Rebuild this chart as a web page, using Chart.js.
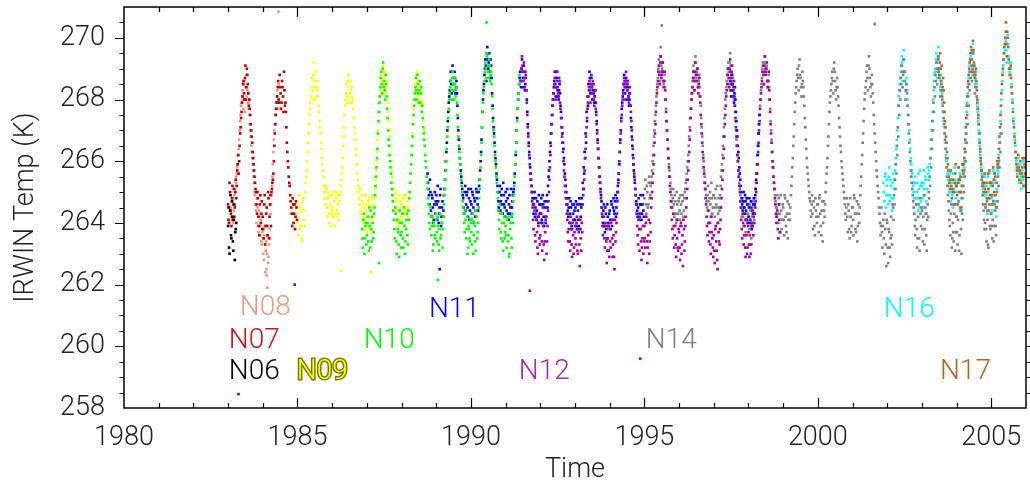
<!DOCTYPE html>
<html>
<head>
<meta charset="utf-8">
<script src="https://cdn.jsdelivr.net/npm/chart.js@4.4.1/dist/chart.umd.min.js"></script>
<style>
  html, body { margin: 0; padding: 0; background: #fff; }
  #wrap { width: 1030px; height: 486px; }
</style>
</head>
<body>
<div id="wrap"><canvas id="irwin" width="1030" height="486"></canvas></div>
<script>
// the *Mid arrays are a second reading half a step later
const STEP = 1 / 36;

const n06Start = 1983.0;
const n06 = [263.9,263.2,264.4,263.6,264.7,263.4,264.1,262.8,263.8];
const n06Mid = [264.5,263.0,264.9,263.5,264.2,263.1,264.6,263.7,264.0];

const n07Start = 1983.0;
const n07 = [
  264.6,264.0,265.0,264.3,264.8,264.1, 265.1,264.5,265.4,265.2,265.9,265.6, 266.5,267.1,267.6,268.1,268.6,268.0,
  269.1,268.4,268.8,268.2,268.0,267.5, 267.0,266.6,266.1,265.7,265.3,265.0, 264.3,264.8,263.9,264.6,264.0,264.7,
  264.2,263.5,264.9,263.9,264.5,263.6, 264.8,264.2,264.9,265.0,265.3,265.6, 266.5,267.2,267.7,268.1,268.6,267.9,
  268.4,267.7,268.6,268.1,268.9,267.8, 267.6,266.6,266.0,265.5,265.2,264.7, 264.3,264.8,264.0,264.6,264.2,264.5
];
const n07Mid = [
  264.1,265.3,264.4,263.9,265.2,264.6, 264.2,265.0,264.8,265.7,266.2,266.0, 266.9,267.4,267.9,268.5,268.2,268.7,
  268.0,269.0,268.5,267.8,267.7,267.2, 266.8,266.3,265.9,265.5,265.1,264.6, 265.0,264.2,263.6,264.9,264.3,263.8,
  263.8,264.6,263.3,264.3,263.9,265.0, 263.5,264.6,263.9,265.1,265.4,266.0, 266.9,267.5,267.9,268.4,268.0,268.8,
  268.2,267.9,268.4,267.6,268.3,267.9, 267.1,266.3,265.8,265.3,264.9,264.5, 263.9,264.6,264.3,263.8,264.7,264.1
];
const n07Extra = [[1983.30, 258.45], [1984.92, 262.0]];

const n08Start = 1983 + 3 / 36;
const n08 = [
  264.5,264.1,264.8,264.4,265.0,265.3, 265.6,265.9,266.4,267.0,267.5,267.9, 268.3,267.7,268.6,268.0,268.8,268.3,
  267.9,267.5,267.0,266.5,266.1,265.7, 265.3,264.9,264.4,264.8,263.9,264.4, 263.6,264.1,263.3,
  263.5,262.8,263.9,263.1,262.5,263.6, 262.9,263.8,264.3,264.9,265.5,266.3, 267.0,267.5,267.9,268.3,267.7
];
const n08Mid = [
  264.2,264.7,264.0,264.9,265.1,265.5, 265.8,266.2,266.7,267.3,267.8,268.1, 268.0,268.5,267.6,268.4,268.1,267.9,
  267.7,267.2,266.8,266.3,265.9,265.5, 265.0,264.6,264.0,264.5,263.7,264.2, 263.9,263.4,263.7,
  263.0,263.6,262.4,263.4,263.0,262.7, 263.3,263.5,264.6,265.2,265.9,266.7, 267.2,267.7,268.1,267.9,268.5
];
const n08Extra = [[1984.45, 270.85], [1984.13, 261.9], [1984.11, 262.3]];

const n09Start = 1984 + 35 / 36;
const n09 = [
  264.3,
  264.6,263.6,264.9,263.9,264.4,263.4, 264.8,264.1,265.0,265.5,266.0,266.6, 267.2,267.7,268.1,268.7,268.0,269.2,
  268.4,268.9,268.1,268.6,267.8,267.3, 266.9,266.4,265.9,265.5,265.0,264.6, 265.1,264.2,264.8,264.0,264.6,264.3,
  264.9,264.2,264.7,263.9,265.0,264.4, 264.6,264.1,264.9,265.2,265.6,266.1, 266.8,267.5,268.0,268.5,267.9,268.8,
  268.2,268.6,267.9,268.4,267.7,267.1, 266.7,266.2,265.6,265.2,264.8,265.1, 264.3,264.7,264.0,264.5,263.8,264.4,
  264.6,263.9,264.8,264.2,264.5,263.7, 264.9,264.3,264.8,265.4,266.0,266.7, 267.3,267.9,268.3,268.8,268.2,269.1,
  268.5,268.9,268.2,268.6,267.9,267.3, 266.8,266.2,265.7,265.3,264.9,264.5, 265.0,264.1,264.7,263.9,264.5,264.2,
  264.6,264.0,264.9,264.3,264.5,263.8, 264.7,264.2,265.0,265.6,266.2,266.9, 267.5,268.0,268.3,268.8,268.1,268.6,
  267.9,268.5,268.0,268.3,267.6,267.0
];
const n09Mid = [
  264.0,
  264.1,264.9,263.8,264.5,263.5,264.7, 264.4,263.9,265.3,265.7,266.3,266.9, 267.5,267.9,268.4,268.3,268.8,268.6,
  268.0,268.4,268.3,268.1,267.6,267.1, 266.6,266.1,265.7,265.2,264.8,265.2, 264.5,265.0,264.3,264.9,263.9,264.5,
  264.4,265.0,264.3,264.8,264.2,264.9, 264.3,264.7,265.0,265.4,265.8,266.5, 267.1,267.8,268.2,268.1,268.6,268.4,
  267.9,268.3,268.1,268.0,267.4,266.9, 266.4,265.9,265.4,265.0,264.6,264.4, 264.9,264.1,264.6,264.2,264.9,263.7,
  264.2,264.7,263.8,264.6,264.1,264.8, 264.0,264.6,265.1,265.7,266.3,267.0, 267.6,268.1,268.6,268.5,268.9,268.7,
  268.3,268.8,268.4,268.1,267.6,267.0, 266.5,266.0,265.5,265.1,264.7,264.3, 264.8,264.4,264.0,264.9,264.1,264.7,
  264.2,264.8,264.4,263.9,264.9,264.1, 264.5,264.8,265.3,265.9,266.5,267.2, 267.7,268.2,268.5,268.4,268.9,268.2,
  268.3,267.8,268.2,267.9,267.3,266.7
];
const n09Extra = [[1986.25, 262.45], [1987.13, 262.4]];

const n10Start = 1986 + 31 / 36;
const n10 = [
  263.8,263.2,264.3,263.5,264.0,
  263.6,264.2,263.1,263.9,264.4,263.4, 264.0,263.7,264.5,265.2,265.8,266.4, 267.3,267.9,268.4,268.9,268.2,269.2,
  268.6,268.0,268.5,267.7,267.0,266.5, 266.0,265.6,265.1,264.7,264.1,263.5, 264.3,263.0,263.8,263.3,264.4,263.6,
  263.7,264.3,263.2,263.9,263.4,264.1, 263.6,264.4,264.8,265.3,265.9,266.5, 267.2,267.8,268.2,268.7,268.0,268.5,
  267.9,268.6,268.2,267.6,267.4,266.9, 266.5,266.0,265.5,265.1,264.6,264.0, 264.5,263.6,264.2,263.3,263.9,263.5,
  264.1,263.4,263.9,263.1,264.3,263.6, 264.0,263.8,264.6,265.1,265.7,266.4, 267.1,267.7,268.2,268.6,268.0,268.9,
  268.3,268.7,268.1,268.4,267.5,266.8, 266.3,265.9,265.4,265.0,264.5,264.0, 264.4,263.5,264.2,263.2,263.8,263.4,
  264.0,263.3,264.3,263.6,263.9,263.1, 264.2,263.7,264.5,265.1,265.8,266.6, 267.6,268.2,268.6,269.2,268.7,269.5,
  268.9,269.3,268.6,268.9,268.1,267.3, 266.8,266.2,265.8,265.3,264.8,264.1, 264.6,263.7,264.3,263.4,264.0,263.5,
  263.9,263.2,264.2,263.6,263.0,264.0, 263.5,264.3,264.7,265.2,265.9,266.6, 267.3,268.0,268.5
];
const n10Mid = [
  263.5,264.1,263.0,263.9,263.3,
  264.0,263.4,264.5,263.2,263.8,264.2, 263.5,264.3,264.9,265.5,266.1,266.9, 267.6,268.1,268.7,268.5,269.0,268.4,
  268.3,268.8,268.1,267.4,266.7,266.2, 265.8,265.3,264.9,264.4,263.8,264.5, 263.4,264.1,263.7,262.9,264.0,263.2,
  264.0,263.5,264.5,263.0,263.8,264.3, 263.3,264.1,265.0,265.6,266.2,266.8, 267.5,268.0,268.4,268.3,268.8,268.2,
  268.3,267.9,268.4,267.8,267.1,266.7, 266.2,265.8,265.3,264.8,264.3,263.8, 264.2,263.9,263.1,264.0,263.6,264.3,
  263.7,264.2,263.3,263.8,263.5,264.0, 263.2,264.2,264.9,265.4,266.0,266.8, 267.4,268.0,268.4,268.3,268.7,268.5,
  268.0,268.5,268.3,267.9,267.1,266.5, 266.1,265.6,265.2,264.7,264.3,263.7, 264.1,263.8,263.0,263.9,263.5,264.1,
  263.7,264.1,263.0,264.0,263.4,264.4, 263.5,264.0,264.8,265.4,266.2,267.1, 267.9,268.4,268.9,269.0,269.4,269.1,
  268.7,269.1,268.8,268.5,267.7,267.0, 266.5,266.0,265.5,265.0,264.4,263.8, 264.3,263.5,264.0,263.1,264.2,263.7,
  263.6,264.1,263.4,262.9,263.8,264.2, 263.2,264.0,264.9,265.5,266.3,267.0, 267.7,268.2,268.8
];
const n10Extra = [[1990.45, 270.5], [1989.05, 262.15], [1987.35, 262.7]];

const n11Start = 1988 + 27 / 36;
const n11 = [
  265.6,265.1,264.6,265.0,264.2,264.8,264.0,264.6,264.3,
  264.9,264.1,264.7,264.3,264.9,263.9, 264.5,264.2,264.9,265.4,266.0,266.6, 267.3,267.9,268.3,268.9,268.2,269.1,
  268.5,268.9,268.2,268.6,267.8,267.0, 266.4,265.9,265.5,265.1,264.8,264.3, 265.2,264.6,265.0,264.2,264.8,264.4,
  265.1,264.3,264.9,264.0,264.7,264.4, 265.0,264.6,265.0,265.4,266.0,266.7, 267.6,268.3,268.8,269.3,268.6,269.7,
  269.0,269.5,268.7,269.1,268.2,267.4, 266.9,266.3,265.9,265.4,265.0,264.5, 265.2,264.7,265.1,264.3,264.9,264.5,
  265.0,264.4,264.8,264.1,264.9,264.5, 264.2,264.7,265.0,265.3,265.9,266.6, 267.4,268.0,268.5,268.9,268.4,269.3,
  268.7,269.1,268.3,268.7,268.0,267.2, 266.6,266.1,265.6,265.2,264.8,264.3, 265.0,264.5,264.1,264.7,264.0,264.6,
  264.3,264.8,264.0,264.6,263.9,264.5, 264.2,264.9,265.2,265.7,266.3,266.9, 267.5,268.0,268.4,268.9,268.1,268.7,
  268.3,268.0,268.5,267.8,267.4,266.9, 266.4,265.9,265.4,265.0,264.6,264.2, 264.8,264.0,264.5,263.8,264.3,264.6,
  264.1,264.7,263.8,264.4,263.9,264.6, 264.2,264.8,265.3,265.8,266.3,266.9, 267.6,268.1,268.5,268.9,268.2,268.7,
  268.0,268.5,267.9,268.3,267.6,267.0, 266.4,265.8,265.3,264.9,264.5,264.0, 264.6,263.7,264.3,263.5,264.2,263.9,
  264.4,263.8,264.6,264.1,264.8,264.3, 264.9,264.5,265.0,265.4,265.9,266.7, 267.4,267.9,268.3,268.8,268.2,268.7,
  268.0,268.4,267.8,268.2,267.4,266.8, 266.2,265.7,265.3,264.9,264.6,264.2, 264.8,264.3,264.9,264.1,264.6,264.4
];
const n11Mid = [
  265.3,264.9,265.4,264.4,264.9,264.5,264.1,265.0,264.7,
  264.6,265.2,264.0,264.5,265.1,264.2, 264.7,264.4,265.1,265.7,266.3,267.0, 267.6,268.1,268.6,268.5,268.9,268.7,
  268.3,268.7,268.4,268.2,267.4,266.7, 266.1,265.7,265.3,264.9,264.5,265.0, 264.4,264.9,264.5,265.1,264.1,264.7,
  264.6,265.0,264.5,264.8,264.2,265.1, 264.8,264.4,265.2,265.7,266.3,267.1, 268.0,268.5,269.0,269.1,269.5,269.3,
  269.2,268.9,269.3,268.7,267.8,267.1, 266.6,266.1,265.6,265.2,264.7,265.0, 264.4,264.9,264.6,265.3,264.6,264.2,
  264.7,265.1,264.3,264.6,264.3,265.1, 264.5,264.9,265.1,265.6,266.2,267.0, 267.7,268.2,268.7,268.6,269.0,268.9,
  268.4,268.9,268.5,268.3,267.6,266.9, 266.3,265.8,265.4,265.0,264.6,264.8, 264.2,264.8,264.4,264.2,264.9,264.3,
  264.6,264.1,264.9,264.2,264.7,264.0, 264.7,264.5,265.5,266.0,266.6,267.2, 267.8,268.2,268.6,268.5,268.4,268.9,
  268.1,268.3,268.2,267.6,267.1,266.6, 266.1,265.6,265.2,264.8,264.4,264.5, 264.3,264.7,263.9,264.6,264.1,264.4,
  264.5,263.9,264.6,264.1,264.8,263.8, 264.5,264.6,265.1,265.6,266.1,266.6, 267.3,267.8,268.3,268.7,268.5,268.4,
  268.3,268.2,268.1,267.9,267.3,266.7, 266.1,265.5,265.1,264.7,264.2,264.4, 263.9,264.5,263.8,264.6,264.0,264.3,
  264.1,264.7,263.9,264.5,264.4,264.7, 264.2,264.8,265.2,265.6,266.3,267.0, 267.7,268.1,268.5,268.6,268.4,268.5,
  268.3,268.1,268.0,267.8,267.1,266.5, 265.9,265.5,265.1,264.7,264.4,264.5, 264.1,264.6,264.6,264.3,264.9,264.2
];
const n11bStart = 1997 + 17 / 36;
const n11b = [
  268.6,268.1,268.8,268.3,267.9,268.4, 267.6,267.0,266.5,266.1,265.6,265.2, 264.8,264.4,265.0,264.3,264.7,264.1,264.6,
  264.2,264.8,264.0,264.5,263.9,264.6, 264.3,264.9,265.4,265.9,266.5,267.2
];
const n11bMid = [
  268.3,268.5,268.5,268.1,268.2,268.0, 267.3,266.8,266.3,265.8,265.4,265.0, 264.6,264.7,264.5,264.9,264.4,264.8,264.0,
  264.5,264.1,264.7,263.8,264.3,264.8, 264.6,265.1,265.6,266.2,266.9,267.5
];
const n11Extra = [[1989.1, 262.5]];

const n12Start = 1991 + 16 / 36;
const n12 = [
  268.6,269.4,268.9,269.2,268.4,268.8, 267.9,267.1,266.5,265.9,265.4,265.0, 264.5,263.8,264.4,263.4,264.1,263.2,263.9,263.5,
  263.6,264.3,263.1,263.9,262.8,263.7, 264.2,263.4,264.4,265.0,265.8,266.5, 267.2,267.8,268.2,268.7,268.0,268.9,
  268.4,268.1,268.6,267.7,267.1,266.6, 266.0,265.5,265.0,264.6,264.1,263.4, 264.0,263.1,263.8,262.9,263.6,263.2,
  263.9,263.3,264.2,263.0,263.7,262.6, 263.5,264.0,264.6,265.1,265.7,266.4, 267.1,267.7,268.1,268.6,267.9,268.8,
  268.2,268.5,267.8,268.3,267.5,266.9, 266.4,265.8,265.3,264.8,264.3,263.6, 264.2,263.2,263.9,262.7,263.5,263.1,
  263.8,263.2,264.1,262.9,263.6,262.5, 263.4,264.0,264.7,265.3,266.0,266.6, 267.3,267.8,268.2,268.7,268.0,268.9,
  268.3,268.6,267.9,268.4,267.6,267.0, 266.4,265.9,265.4,264.9,264.3,263.6, 264.1,263.1,263.8,262.8,263.5,263.0,
  263.9,263.2,264.2,262.7,263.6,263.0, 264.0,264.5,265.0,265.6,266.2,266.9, 267.6,268.2,268.6,269.1,268.5,269.4,
  268.8,269.2,268.4,268.9,268.0,267.3, 266.7,266.1,265.5,265.0,264.5,263.8, 264.3,263.2,263.9,262.9,263.5,263.1,
  263.7,262.8,264.0,263.3,262.6,263.8, 263.4,264.2,264.8,265.4,266.0,266.7, 267.4,268.0,268.4,268.9,268.3,269.2,
  268.6,269.0,268.2,268.7,267.9,267.2, 266.6,266.1,265.6,265.1,264.6,263.9, 264.4,263.4,264.0,263.0,263.7,263.2,
  263.6,262.7,263.9,263.1,262.5,263.7, 263.3,264.1,264.8,265.4,266.1,266.8, 267.5,268.1,268.5,269.0,268.4,269.3,
  268.7,269.1,268.3,268.6,267.8,267.1, 266.5,266.0,265.5,265.0,264.5,263.8, 264.3,263.3,263.9,262.9,263.6,263.2,
  263.7,262.9,264.1,263.3,264.4,263.6, 264.0,264.5,265.0,265.6,266.3,267.0, 267.7,268.2,268.6,269.1,268.5,269.4,
  268.8,269.2,268.4,268.9,268.0,267.2, 266.6,266.0,265.5,265.1,264.6,264.0, 264.4,263.5,264.1
];
const n12Mid = [
  269.0,269.1,268.6,268.7,268.9,268.3, 267.5,266.8,266.2,265.6,265.2,264.7, 264.1,264.6,263.6,264.3,263.7,263.0,264.2,263.3,
  264.0,263.4,264.5,263.3,263.4,264.1, 263.0,263.9,264.7,265.4,266.2,266.9, 267.5,268.0,268.5,268.4,268.9,268.6,
  268.2,268.7,267.9,267.4,266.8,266.3, 265.7,265.2,264.8,264.3,263.7,263.8, 263.4,264.2,263.3,264.0,263.0,263.7,
  263.5,264.0,263.1,263.8,263.3,264.1, 263.1,263.7,264.9,265.4,266.1,266.8, 267.4,267.9,268.4,268.3,268.5,268.4,
  268.6,268.0,268.1,267.7,267.2,266.6, 266.1,265.5,265.0,264.5,263.9,263.9, 263.5,264.0,263.4,263.1,263.9,262.9,
  263.4,264.0,263.5,263.3,262.9,264.1, 263.7,264.3,265.0,265.6,266.3,266.9, 267.5,268.0,268.5,268.4,268.6,268.6,
  268.5,268.1,268.2,267.8,267.3,266.7, 266.1,265.6,265.1,264.6,263.9,263.3, 263.8,264.2,263.4,263.2,263.9,263.4,
  263.5,264.0,263.4,263.2,264.1,263.4, 263.7,264.8,265.3,265.9,266.6,267.2, 267.9,268.4,268.9,268.8,269.2,268.7,
  268.9,268.6,268.6,268.3,267.6,267.0, 266.4,265.8,265.2,264.7,264.1,263.5, 263.9,263.6,263.3,264.1,263.2,263.8,
  263.2,263.9,263.0,263.6,264.1,263.1, 263.9,264.5,265.1,265.7,266.3,267.0, 267.7,268.2,268.7,268.6,268.9,268.8,
  268.8,268.4,268.5,268.1,267.5,266.9, 266.3,265.8,265.3,264.8,264.2,263.6, 264.0,263.7,263.3,264.2,263.5,262.9,
  263.1,263.8,263.4,262.8,264.0,263.4, 263.8,264.5,265.1,265.7,266.4,267.2, 267.8,268.3,268.8,268.7,269.0,268.9,
  268.9,268.5,268.4,268.1,267.4,266.8, 266.2,265.7,265.2,264.7,264.1,263.5, 264.0,263.6,263.2,264.1,263.0,263.9,
  263.3,263.6,263.0,264.0,263.9,264.2, 264.3,264.7,265.3,265.9,266.6,267.3, 268.0,268.4,268.9,268.8,269.1,268.9,
  269.0,268.6,268.6,268.3,267.6,266.9, 266.3,265.8,265.3,264.8,264.3,264.2, 263.8,264.6,263.7
];
const n12Extra = [[1994.88, 259.6], [1991.7, 261.8]];

const n14Start = 1995.0;
const n14 = [
  264.8,265.4,264.3,265.0,264.6,265.5, 264.9,265.3,265.7,266.2,266.8,267.3, 267.8,268.3,268.7,269.3,268.6,269.7,
  268.9,269.2,268.5,268.8,268.0,267.3, 266.7,266.1,265.7,265.3,264.9,264.5, 265.1,264.2,264.7,264.0,264.6,264.3,
  264.8,264.1,264.6,263.9,264.9,264.4, 265.0,265.3,265.6,266.0,266.5,267.1, 267.7,268.2,268.6,269.1,268.3,269.4,
  268.7,269.0,268.4,268.8,268.1,267.4, 266.8,266.2,265.7,265.3,264.9,264.5, 265.2,264.4,265.0,264.2,264.8,264.5,
  264.9,264.2,265.1,264.5,264.0,264.8, 264.4,265.2,265.7,266.2,266.8,267.4, 268.0,268.4,268.8,269.2,268.5,269.5,
  268.8,268.3,268.7,268.0,267.6,267.0, 266.5,266.0,265.5,265.1,264.7,264.2, 264.8,263.9,264.5,263.7,264.3,264.0,
  264.6,263.8,264.4,263.5,264.2,264.7, 264.1,264.8,265.3,265.9,266.5,267.2, 267.8,268.3,268.7,269.2,268.5,269.4,
  268.9,269.1,268.4,268.8,268.0,267.3, 266.7,266.0,265.5,265.1,264.7,264.2, 264.9,264.0,264.6,263.7,264.4,264.1,
  264.5,263.6,264.8,263.9,264.3,263.5, 264.6,264.1,264.9,265.5,266.1,266.8, 267.6,268.2,268.6,269.0,268.3,269.3,
  268.7,268.1,268.9,268.4,267.8,267.1, 266.4,265.8,265.4,265.0,264.7,264.2, 264.9,263.8,264.5,263.6,264.4,264.0,
  264.6,263.7,264.9,263.9,264.4,263.4, 264.7,264.2,265.0,265.6,266.1,266.8, 267.6,268.1,268.5,268.9,268.2,269.2,
  268.6,268.0,268.7,268.1,267.4,266.8, 266.3,265.8,265.4,265.0,264.6,264.1, 264.8,263.7,264.4,263.5,264.2,263.9,
  264.5,263.6,264.8,263.8,264.3,263.4, 264.6,264.0,264.9,265.5,266.2,266.9, 267.7,268.2,268.6,269.1,268.3,269.4,
  268.7,268.1,268.8,268.2,267.5,266.9, 266.3,265.7,265.2,264.8,264.3,263.6, 264.5,263.2,264.1,263.0,263.8,262.6,
  264.0,262.7,263.7,262.9,264.2,263.3, 264.5,264.9,265.4,265.9,266.5,267.1, 267.8,268.3,268.7,269.1,268.4,269.3,
  268.6,268.0,268.5,267.8,267.2,266.6, 266.0,265.5,265.1,264.7,264.3,263.6, 264.6,263.2,264.2,263.5,264.8,263.9,
  264.4,263.4,264.9,263.8,264.3,263.1, 264.6,265.0,265.5,266.1,266.7,267.3, 267.9,268.4,268.8,269.2,268.5,269.4,
  268.7,268.1,268.5,268.0,267.6,267.2, 266.7,266.1,265.5,264.9,264.4,263.9, 264.3,263.2,264.0,263.4,264.6,263.7,
  264.2,263.3,264.7,263.6,264.4,263.0, 264.8,265.2,265.7,266.3,266.9,267.5, 268.1,268.5,268.9,269.3,268.6,269.5,
  268.8,268.2,268.6,268.1,267.7,267.2, 266.6,266.0,265.4,264.9,264.4,263.8, 264.5,263.4,264.1,263.2,264.6,263.8,
  264.3,263.5,264.7,263.9,264.4,263.6, 265.0,265.5,266.0,266.6,267.2
];
const n14Mid = [
  265.1,264.6,265.2,264.5,265.3,264.8, 265.2,265.5,266.0,266.5,267.0,267.5, 268.1,268.5,269.0,268.9,269.4,269.1,
  269.0,268.9,268.6,268.4,267.7,267.0, 266.4,265.9,265.5,265.1,264.7,264.8, 264.6,264.9,264.3,265.0,264.1,264.7,
  264.4,264.9,264.3,264.7,264.2,264.8, 265.1,265.4,265.8,266.2,266.8,267.4, 268.0,268.4,268.9,268.7,269.2,268.9,
  268.9,268.6,268.6,268.4,267.8,267.1, 266.5,266.0,265.5,265.1,264.7,264.9, 264.7,264.8,264.6,265.3,264.3,264.9,
  264.5,264.8,264.6,265.2,264.3,264.5, 264.9,265.5,265.9,266.5,267.1,267.7, 268.2,268.6,269.0,268.9,269.2,269.1,
  268.6,268.5,268.3,267.8,267.3,266.7, 266.2,265.7,265.3,264.9,264.5,264.5, 264.2,264.7,264.1,264.8,264.6,264.3,
  264.2,264.6,263.9,264.7,264.4,264.3, 264.5,265.1,265.6,266.2,266.9,267.5, 268.0,268.5,269.0,268.9,269.2,269.0,
  269.0,268.6,268.6,268.4,267.7,267.0, 266.3,265.8,265.3,264.9,264.5,264.5, 264.3,264.8,264.3,264.9,263.8,264.6,
  264.1,264.9,264.2,263.7,264.7,264.1, 264.3,264.5,265.2,265.8,266.5,267.2, 267.9,268.4,268.8,268.7,269.1,268.8,
  268.4,268.5,268.6,268.1,267.4,266.7, 266.1,265.6,265.2,264.8,264.4,264.6, 264.3,264.7,263.9,264.8,264.2,264.6,
  264.2,264.8,264.3,263.6,264.7,264.0, 264.4,264.6,265.3,265.8,266.5,267.2, 267.9,268.3,268.7,268.6,269.0,268.9,
  268.3,268.4,268.4,267.8,267.1,266.5, 266.0,265.6,265.2,264.8,264.3,264.5, 264.2,264.6,263.8,264.8,263.7,264.5,
  264.1,264.9,264.3,263.7,264.7,263.9, 264.3,264.5,265.2,265.9,266.6,267.3, 268.0,268.4,268.9,268.7,269.1,269.0,
  268.4,268.5,268.5,267.9,267.2,266.6, 266.0,265.5,265.0,264.5,264.0,263.9, 263.7,263.9,263.5,264.3,263.3,264.1,
  263.2,263.8,263.2,263.5,263.6,264.6, 264.1,264.6,265.1,265.6,266.2,266.8, 267.5,268.0,268.5,268.9,268.8,268.9,
  268.9,268.3,268.2,267.5,266.9,266.3, 265.7,265.3,264.9,264.5,263.9,264.1, 263.8,263.5,264.6,263.1,264.3,264.5,
  263.8,264.2,263.3,264.5,263.6,264.1, 264.2,264.8,265.2,265.8,266.4,267.0, 267.6,268.1,268.6,269.0,268.9,268.9,
  269.0,268.3,268.3,267.8,267.4,266.9, 266.4,265.8,265.2,264.7,264.1,263.6, 264.6,263.5,263.7,264.3,263.1,264.2,
  263.7,264.1,263.1,264.5,263.8,264.3, 264.1,265.0,265.5,266.0,266.6,267.2, 267.8,268.3,268.7,269.1,269.0,269.1,
  269.1,268.4,268.4,267.9,267.4,266.9, 266.3,265.7,265.2,264.6,264.1,264.0, 263.8,264.7,263.3,264.4,263.9,264.3,
  263.9,264.1,263.4,264.6,263.9,264.5, 264.7,265.2,265.8,266.3,266.9
];
const n14Extra = [[2001.64, 270.45], [1995.5, 270.4]];

const n16Start = 2001 + 32 / 36;
const n16 = [
  265.3,264.7,265.6,264.9,
  265.4,264.6,265.8,264.9,265.2,264.4, 265.6,265.1,265.7,266.1,266.7,267.4, 268.1,268.5,268.9,269.4,268.6,269.6,
  268.9,268.3,268.7,268.0,267.5,267.0, 266.4,265.9,265.6,265.2,264.8,265.5, 264.6,265.3,264.4,265.1,265.7,264.7,
  265.2,264.5,265.7,264.9,265.4,264.3, 265.8,265.4,265.9,266.4,267.0,267.6, 268.3,268.8,269.0,269.5,268.7,269.7,
  269.0,268.4,268.8,268.2,267.6,267.1, 266.6,266.2,265.8,265.4,265.0,265.6, 264.7,265.3,264.5,265.1,265.8,264.8,
  265.3,264.6,265.8,265.0,265.5,264.4, 265.9,265.5,266.0,266.6,267.2,267.9, 268.5,268.9,269.2,269.6,268.8,269.8,
  269.1,268.5,268.9,268.1,267.6,267.0, 266.5,266.0,265.6,265.2,264.9,265.5, 264.5,265.2,264.3,265.0,265.6,264.8,
  265.2,264.4,265.7,264.9,265.4,264.2, 265.8,265.6,266.2,266.9,267.6,268.3, 268.9,269.3,269.6,269.9,269.2,270.1,
  269.4,268.9,269.2,268.5,268.0,267.4, 266.9,266.5,266.0,265.6,266.1,265.3, 265.9,265.1,265.7,265.4,266.0,265.5
];
const n16Mid = [
  265.0,265.5,264.5,265.2,
  264.9,265.5,264.7,265.4,264.8,265.3, 264.8,265.4,265.9,266.4,267.0,267.8, 268.3,268.7,269.1,269.2,269.3,269.3,
  268.6,268.5,268.3,267.8,267.2,266.7, 266.1,265.7,265.3,265.0,265.3,264.8, 265.0,264.8,265.6,264.5,265.2,265.3,
  264.8,265.3,265.1,265.5,264.7,265.1, 265.6,265.7,266.1,266.7,267.3,268.0, 268.6,268.9,269.3,269.2,269.4,269.4,
  268.7,268.6,268.5,267.9,267.3,266.9, 266.4,266.0,265.6,265.2,265.3,265.0, 265.0,264.9,265.6,264.6,265.4,265.2,
  265.0,265.4,265.3,265.6,264.8,265.2, 265.7,265.8,266.3,266.9,267.6,268.2, 268.7,269.1,269.4,269.3,269.6,269.5,
  268.8,268.7,268.5,267.8,267.3,266.7, 266.2,265.8,265.4,265.1,265.2,264.9, 264.9,264.8,265.5,264.6,265.3,265.2,
  264.8,265.2,265.3,265.6,264.7,265.1, 265.7,265.9,266.6,267.3,268.0,268.6, 269.1,269.5,269.8,269.6,269.8,269.8,
  269.2,269.0,268.8,268.2,267.7,267.2, 266.7,266.3,265.8,265.9,265.7,265.6, 265.5,265.4,266.0,265.2,265.8,265.8
];

const n17Start = 2003 + 17 / 36;
const n17 = [
  269.3,268.8,269.5,268.6,268.1,268.7, 267.9,267.3,266.8,266.3,265.9,265.5, 265.1,265.7,264.8,265.4,264.6,265.3,265.9,
  265.2,264.6,265.8,265.0,265.5,264.5, 265.9,265.6,266.1,266.7,267.4,268.1, 268.6,269.0,269.3,269.7,268.9,269.9,
  269.2,268.7,269.0,268.3,267.7,267.2, 266.6,266.1,265.7,265.3,265.0,265.6, 264.6,265.3,264.4,265.1,265.7,264.9,
  265.3,264.6,265.8,265.0,265.5,264.5, 266.0,265.8,266.4,267.1,267.8,268.5, 269.0,269.5,269.8,270.2,269.4,270.0,
  269.3,268.8,269.1,268.4,267.9,267.3, 266.8,266.3,265.9,265.5,266.2,265.4, 266.0,265.3,265.8,265.5,266.1,265.6
];
const n17Mid = [
  269.0,269.2,269.0,269.1,268.4,268.3, 267.6,267.1,266.6,266.1,265.7,265.3, 265.4,265.2,265.1,265.0,265.0,265.6,265.2,
  264.9,265.3,265.4,265.4,265.0,265.2, 265.7,265.9,266.4,267.1,267.8,268.4, 268.8,269.2,269.5,269.3,269.6,269.6,
  268.9,268.8,268.6,268.0,267.5,266.9, 266.4,265.9,265.5,265.2,265.3,265.1, 265.0,264.8,265.6,264.8,265.3,265.3,
  264.9,265.2,265.4,265.6,264.9,265.3, 265.9,266.1,266.8,267.5,268.2,268.8, 269.3,269.7,270.0,269.8,270.2,269.7,
  269.0,269.0,268.7,268.2,267.6,267.1, 266.6,266.1,265.7,265.8,265.8,265.7, 265.6,265.6,266.1,265.2,265.9,265.8
];
const n17Extra = [[2005.42, 270.5]];

const satNames  = ['N06', 'N07', 'N08', 'N09', 'N10', 'N11', 'N12', 'N14', 'N16', 'N17'];
const satColors = ['#000000', '#b40000', '#e8967c', '#ffff00', '#00ff00', '#0000ff', '#a000a0', '#808080', '#00ffff', '#b5651d'];
const labelColors = ['#000000', '#c81414', '#ec9a84', '#ffff00', '#00ff00', '#0000ff', '#a828a8', '#808080', '#00ffff', '#b46428'];
// lower number is painted on top
const satLayer = [0, 1, 2, 4, 3, 6, 5, 7, 9, 8];
const HALF = STEP / 2;
const satParts = [
  [[n06Start, n06], [n06Start + HALF, n06Mid]],
  [[n07Start, n07], [n07Start + HALF, n07Mid]],
  [[n08Start, n08], [n08Start + HALF, n08Mid]],
  [[n09Start, n09], [n09Start + HALF, n09Mid]],
  [[n10Start, n10], [n10Start + HALF, n10Mid]],
  [[n11Start, n11], [n11Start + HALF, n11Mid], [n11bStart, n11b], [n11bStart + HALF, n11bMid]],
  [[n12Start, n12], [n12Start + HALF, n12Mid]],
  [[n14Start, n14], [n14Start + HALF, n14Mid]],
  [[n16Start, n16], [n16Start + HALF, n16Mid]],
  [[n17Start, n17], [n17Start + HALF, n17Mid]]
];
const satExtra = [[], n07Extra, n08Extra, n09Extra, n10Extra, n11Extra, n12Extra, n14Extra, [], n17Extra];

// satellite name labels: left edge (year) and baseline (K)
const labelYears = [1983.02, 1983.02, 1983.34, 1984.98, 1986.91, 1988.79, 1991.38, 1995.04, 2001.90, 2003.52];
const labelTemps = [258.94, 259.95, 261.02, 258.94, 259.95, 260.95, 258.94, 259.95, 260.95, 258.94];

const xTicks = [1980, 1985, 1990, 1995, 2000, 2005];
const yTicks = [258, 260, 262, 264, 266, 268, 270];

const FONT = "'Roboto', 'Liberation Sans', sans-serif";

function toPoints(parts, extra) {
  const pts = [];
  parts.forEach(([start, vals]) => {
    vals.forEach((v, i) => pts.push({ x: start + i * STEP, y: v }));
  });
  extra.forEach(([x, y]) => pts.push({ x, y }));
  return pts;
}

const datasets = satNames.map((name, k) => ({
  label: name,
  data: toPoints(satParts[k], satExtra[k]),
  order: satLayer[k],
  backgroundColor: satColors[k],
  borderWidth: 0,
  pointStyle: 'rect',
  pointRadius: 1.85,
  pointHoverRadius: 1.85
}));

// axes box, IDL style ticks and the satellite labels
const frame = {
  id: 'frame',
  afterDatasetsDraw(chart) {
    const { ctx, chartArea: a, scales: { x, y } } = chart;
    ctx.save();
    ctx.strokeStyle = '#000';
    ctx.lineWidth = 1.5;
    ctx.strokeRect(a.left, a.top, a.right - a.left, a.bottom - a.top);
    ctx.lineWidth = 1.2;
    ctx.beginPath();
    for (let yr = 1981; yr < 2006; yr++) {
      const px = Math.round(x.getPixelForValue(yr)) + 0.5;
      const len = yr % 5 === 0 ? 10 : 5;
      ctx.moveTo(px, a.bottom); ctx.lineTo(px, a.bottom - len);
      ctx.moveTo(px, a.top); ctx.lineTo(px, a.top + len);
    }
    for (let v = 258.5; v < 271; v += 0.5) {
      const py = Math.round(y.getPixelForValue(v)) + 0.5;
      const len = v % 2 === 0 ? 9 : 4.5;
      ctx.moveTo(a.left, py); ctx.lineTo(a.left - len, py);
      ctx.moveTo(a.right, py); ctx.lineTo(a.right + len, py);
    }
    ctx.stroke();

    ctx.font = '300 28px ' + FONT;
    ctx.textAlign = 'left';
    ctx.textBaseline = 'alphabetic';
    satNames.forEach((name, k) => {
      const lx = x.getPixelForValue(labelYears[k]);
      const ly = y.getPixelForValue(labelTemps[k]);
      if (name === 'N09') {
        ctx.lineWidth = 3;
        ctx.strokeStyle = '#7a7a00';
        ctx.strokeText(name, lx, ly);
      }
      ctx.fillStyle = labelColors[k];
      ctx.fillText(name, lx, ly);
    });
    ctx.restore();
  }
};

new Chart(document.getElementById('irwin'), {
  type: 'scatter',
  data: { datasets },
  options: {
    responsive: false,
    animation: false,
    events: [],
    layout: { padding: { left: 0, right: 4, top: 7, bottom: 0 } },
    plugins: { legend: { display: false }, tooltip: { enabled: false } },
    scales: {
      x: {
        type: 'linear',
        min: 1980,
        max: 2006,
        afterFit(s) { s.height = 78; s.paddingLeft = 0; s.paddingRight = 0; },
        grid: { display: false, drawTicks: false },
        border: { display: false },
        afterBuildTicks(s) { s.ticks = xTicks.map(v => ({ value: v })); },
        ticks: {
          autoSkip: false, maxRotation: 0, minRotation: 0, padding: 14,
          color: '#222', font: { family: FONT, size: 27, weight: 300 },
          callback: v => String(v)
        },
        title: {
          display: true, text: 'Time', color: '#222',
          font: { family: FONT, size: 27, weight: 300 },
          padding: { top: 0, bottom: 0 }
        }
      },
      y: {
        min: 258,
        max: 271,
        afterFit(s) { s.width = 124; s.paddingTop = 0; s.paddingBottom = 0; },
        grid: { display: false, drawTicks: false },
        border: { display: false },
        afterBuildTicks(s) { s.ticks = yTicks.map(v => ({ value: v })); },
        ticks: {
          autoSkip: false, padding: 19,
          color: '#222', font: { family: FONT, size: 27, weight: 300 },
          callback: v => String(v)
        },
        title: {
          display: true, text: 'IRWIN Temp (K)', color: '#222',
          font: { family: FONT, size: 27, weight: 300 },
          padding: { top: 10, bottom: 0 }
        }
      }
    }
  },
  plugins: [frame]
});
</script>
</body>
</html>
